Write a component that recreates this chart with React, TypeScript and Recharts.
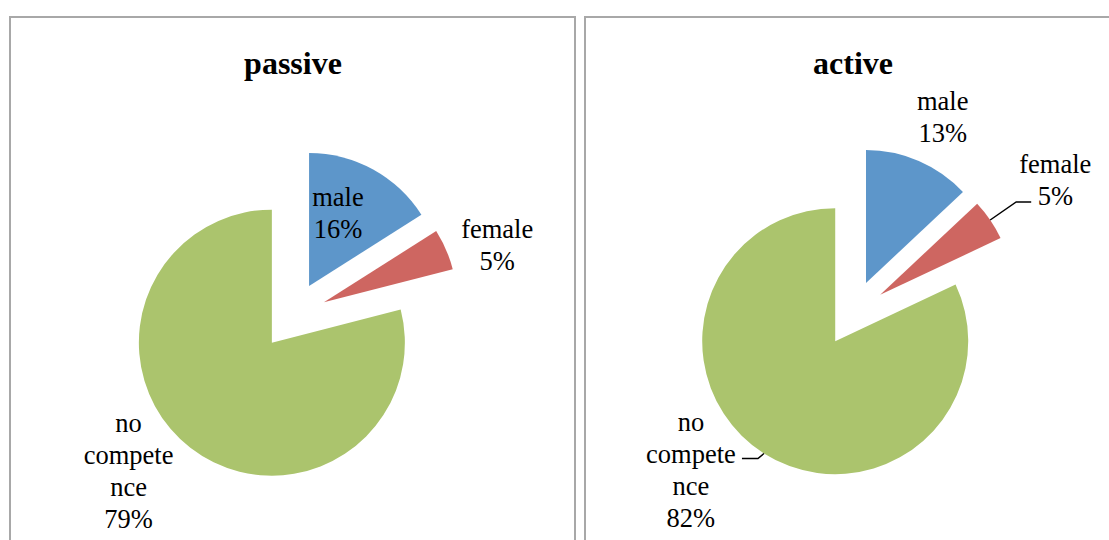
import React from 'react';
import { PieChart, Pie, Cell } from 'recharts';

const categories = ['male', 'female', 'no competence'];
const wrappedNames = [['male'], ['female'], ['no', 'compete', 'nce']];
const passiveValues = [16, 5, 79];
const activeValues = [13, 5, 82];
const colors = ['#5d96ca', '#ce6661', '#abc46d'];

const RADIAN = Math.PI / 180;
const RADIUS = 133;
const FONT = "'Liberation Serif', 'Times New Roman', Times, serif";

// label placement: distance as radius factor, angle clockwise from 12 o'clock
type Place = { r: number; a: number; leader?: [number, number][] };

const passivePlaces: Place[] = [
  { r: 0.58, a: 22 },
  { r: 1.37, a: 72 },
  { r: 1.45, a: 228 },
];
const activePlaces: Place[] = [
  { r: 1.365, a: 25 },
  { r: 1.57, a: 57, leader: [[26, -18], [41, -18]] },
  { r: 1.46, a: 228, leader: [[-6, 5], [-22, 5]] },
];

const buildData = (values: number[]) =>
  categories.map((name, i) => ({ name, value: values[i] }));

// mid angle of each slice, clockwise from top
const midAngles = (values: number[]) => {
  const total = values.reduce((s, v) => s + v, 0);
  let cum = 0;
  return values.map((v) => {
    const m = ((cum + v / 2) / total) * 360;
    cum += v;
    return m;
  });
};

const makeLabel = (slice: number, place: Place) => (props: any) => {
  if (props.index !== slice) return null;
  const { cx, cy, midAngle, value } = props;
  const theta = 90 - midAngle;
  const a = place.a * RADIAN;
  const x = cx + place.r * RADIUS * Math.sin(a);
  const yc = cy - place.r * RADIUS * Math.cos(a);
  const lines = [...wrappedNames[slice], `${value}%`];
  const lh = 32;
  const y0 = yc - ((lines.length - 1) * lh) / 2 + 8;
  let leader = null;
  if (place.leader) {
    const ex = cx + RADIUS * Math.sin(theta * RADIAN);
    const ey = cy - RADIUS * Math.cos(theta * RADIAN);
    const d = `M${ex},${ey}` + place.leader.map(([dx, dy]) => ` L${ex + dx},${ey + dy}`).join('');
    leader = <path d={d} stroke="#000" strokeWidth={1.5} fill="none" />;
  }
  return (
    <g>
      {leader}
      <text x={x} y={y0} textAnchor="middle" fill="#000" style={{ fontFamily: FONT, fontSize: 26.5 }}>
        {lines.map((l, k) => (
          <tspan key={k} x={x} y={y0 + k * lh}>{l}</tspan>
        ))}
      </text>
    </g>
  );
};

const ExplodedPie = (values: number[], center: [number, number], explode: number, places: Place[], tag: string) => {
  const data = buildData(values);
  const mids = midAngles(values);
  return data.map((_, i) => {
    const cx = center[0] + explode * Math.sin(mids[i] * RADIAN);
    const cy = center[1] - explode * Math.cos(mids[i] * RADIAN);
    return (
      <Pie
        key={`${tag}-${i}`}
        data={data}
        dataKey="value"
        nameKey="name"
        cx={cx}
        cy={cy}
        outerRadius={RADIUS}
        startAngle={90}
        endAngle={-270}
        stroke="none"
        labelLine={false}
        label={makeLabel(i, places[i])}
        isAnimationActive={false}
        legendType="none"
      >
        {data.map((entry, j) => (
          <Cell key={`c-${j}`} fill={j === i ? colors[j] : 'none'} />
        ))}
      </Pie>
    );
  });
};

const panelStyle: React.CSSProperties = {
  position: 'absolute',
  top: 16,
  height: 600,
  border: '2px solid #a8a8a8',
  background: '#fff',
  boxSizing: 'border-box',
};

const titleStyle: React.CSSProperties = {
  position: 'absolute',
  top: 47,
  fontFamily: FONT,
  fontWeight: 'bold',
  fontSize: 32,
  lineHeight: '32px',
  width: 200,
  textAlign: 'center',
};

export default function App() {
  return (
    <div style={{ position: 'fixed', left: 0, top: 0, width: 1109, height: 540, overflow: 'hidden', background: '#fff' }}>
      <div style={{ ...panelStyle, left: 9, width: 567 }} />
      <div style={{ ...panelStyle, left: 584, width: 600 }} />
      <div style={{ ...titleStyle, left: 193 }}>passive</div>
      <div style={{ ...titleStyle, left: 753 }}>active</div>
      <div style={{ position: 'absolute', left: 0, top: 0 }}>
        <PieChart width={1109} height={540} margin={{ top: 0, right: 0, bottom: 0, left: 0 }}>
          {ExplodedPie(passiveValues, [292.7, 315.8], 34, passivePlaces, 'passive')}
          {ExplodedPie(activeValues, [852.9, 313.3], 33, activePlaces, 'active')}
        </PieChart>
      </div>
    </div>
  );
}
